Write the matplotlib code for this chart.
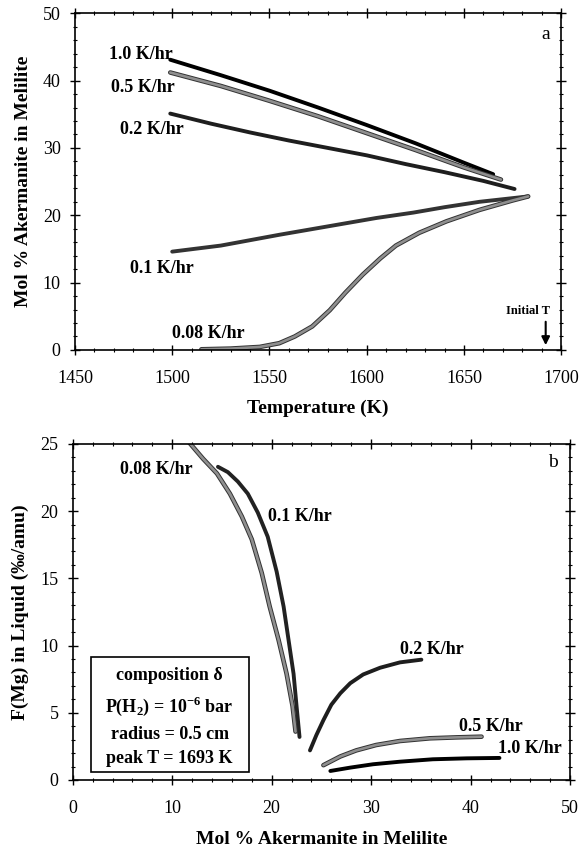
import matplotlib
matplotlib.use("Agg")
import matplotlib.pyplot as plt
import matplotlib.patheffects as pe
from matplotlib.patches import Rectangle
from matplotlib.ticker import MultipleLocator

plt.rcParams["font.family"] = ["Liberation Serif", "DejaVu Serif"]
plt.rcParams["mathtext.fontset"] = "custom"
plt.rcParams["mathtext.rm"] = "Liberation Serif:bold"
plt.rcParams["mathtext.bf"] = "Liberation Serif:bold"

# panel a: temperature (K) vs mol % akermanite in melilite
t_10 = [1499, 1525, 1550, 1575, 1600, 1625, 1650, 1665]
a_10 = [43.1, 40.8, 38.5, 36.0, 33.4, 30.7, 27.8, 26.1]
t_05 = [1499, 1525, 1550, 1575, 1600, 1625, 1650, 1669]
a_05 = [41.2, 39.2, 37.0, 34.7, 32.2, 29.7, 27.1, 25.3]
t_02 = [1499, 1520, 1540, 1560, 1580, 1600, 1620, 1640, 1660, 1676]
a_02 = [35.1, 33.6, 32.3, 31.1, 30.0, 28.9, 27.6, 26.4, 25.1, 23.9]
t_01 = [1500, 1525, 1555, 1575, 1589, 1605, 1624, 1640, 1658, 1683]
a_01 = [14.6, 15.5, 17.1, 18.1, 18.8, 19.6, 20.4, 21.2, 22.0, 22.8]
t_008 = [1515, 1530, 1545, 1555, 1563, 1572, 1581, 1589, 1598, 1607, 1615,
         1627, 1641, 1658, 1675, 1683]
a_008 = [0.1, 0.2, 0.45, 1.0, 2.0, 3.5, 5.9, 8.5, 11.2, 13.6, 15.5,
         17.4, 19.1, 20.8, 22.2, 22.8]

# panel b: mol % akermanite in melilite vs F(Mg) in liquid
x_b008 = [11.6, 13.1, 14.5, 15.8, 17.0, 18.0, 19.0, 19.8, 20.7, 21.5, 22.1, 22.4]
f_b008 = [25.2, 23.9, 22.8, 21.3, 19.6, 17.9, 15.4, 12.9, 10.4, 7.9, 5.5, 3.6]
x_b01 = [14.6, 15.6, 16.6, 17.6, 18.6, 19.6, 20.5, 21.2, 21.7, 22.2, 22.5, 22.8]
f_b01 = [23.3, 22.9, 22.2, 21.3, 19.9, 18.1, 15.5, 12.9, 10.4, 7.9, 5.5, 3.2]
x_b02 = [23.85, 24.5, 25.2, 26.0, 26.9, 27.9, 29.2, 30.9, 32.9, 35.05]
f_b02 = [2.2, 3.35, 4.45, 5.6, 6.45, 7.2, 7.85, 8.35, 8.75, 8.95]
x_b05 = [25.2, 26.9, 28.5, 30.5, 32.9, 35.9, 38.6, 41.1]
f_b05 = [1.1, 1.75, 2.2, 2.6, 2.9, 3.1, 3.17, 3.22]
x_b10 = [25.9, 27.9, 30.2, 32.9, 36.2, 39.6, 42.9]
f_b10 = [0.67, 0.92, 1.17, 1.36, 1.54, 1.61, 1.64]

box_lines = ["composition δ", r"P(H$_\mathbf{2}$) = 10$^\mathbf{-6}$ bar",
             "radius = 0.5 cm", "peak T = 1693 K"]

fig = plt.figure(figsize=(5.81, 8.49), dpi=100)
ax1 = fig.add_axes([0.129, 0.5878, 0.837, 0.3966])
ax2 = fig.add_axes([0.1252, 0.0813, 0.856, 0.3958])

lw = 2.8
grey_fx = [pe.Stroke(linewidth=lw + 0.5, foreground="#333333"), pe.Normal()]


def dark(ax, x, y, c="#111111"):
    ax.plot(x, y, color=c, lw=lw, solid_capstyle="round")


def grey(ax, x, y):
    ax.plot(x, y, color="#8f8f8f", lw=lw - 0.9, solid_capstyle="round",
            path_effects=grey_fx)


dark(ax1, t_10, a_10, "black")
grey(ax1, t_05, a_05)
dark(ax1, t_02, a_02, "#1e1e1e")
dark(ax1, t_01, a_01, "#333333")
grey(ax1, t_008, a_008)

lab = dict(fontsize=13, fontweight="bold", ha="center", va="center")
ax1.text(1483.7, 43.8, "1.0 K/hr", **lab)
ax1.text(1484.8, 38.9, "0.5 K/hr", **lab)
ax1.text(1489.8, 32.7, "0.2 K/hr", **lab)
ax1.text(1494.5, 12.1, "0.1 K/hr", **lab)
ax1.text(1518.5, 2.5, "0.08 K/hr", **lab)
ax1.text(1692, 46.8, "a", fontsize=14, ha="center", va="center")
ax1.text(1683, 5.8, "Initial T", fontsize=9, fontweight="bold", ha="center", va="center")
ax1.annotate("", xy=(1692, 0.3), xytext=(1692, 4.6),
             arrowprops=dict(arrowstyle="-|>", color="black", lw=1.5, mutation_scale=12))

ax1.set_xlim(1450, 1700)
ax1.set_ylim(0, 50)
ax1.xaxis.set_major_locator(MultipleLocator(50))
ax1.xaxis.set_minor_locator(MultipleLocator(10))
ax1.yaxis.set_major_locator(MultipleLocator(10))
ax1.yaxis.set_minor_locator(MultipleLocator(2))
ax1.set_xlabel("Temperature (K)", fontsize=14, fontweight="bold", labelpad=9)
ax1.set_ylabel("Mol % Akermanite in Melilite", fontsize=14, fontweight="bold", labelpad=8)

dark(ax2, x_b01, f_b01, "#222222")
grey(ax2, x_b008, f_b008)
dark(ax2, x_b02, f_b02, "#1e1e1e")
grey(ax2, x_b05, f_b05)
dark(ax2, x_b10, f_b10, "black")

ax2.text(8.4, 23.1, "0.08 K/hr", **lab)
ax2.text(22.8, 19.6, "0.1 K/hr", **lab)
ax2.text(36.1, 9.7, "0.2 K/hr", **lab)
ax2.text(42.0, 4.0, "0.5 K/hr", **lab)
ax2.text(46.0, 2.36, "1.0 K/hr", **lab)
ax2.text(48.3, 23.6, "b", fontsize=14, ha="center", va="center")

ax2.add_patch(Rectangle((1.8, 0.62), 15.9, 8.5, fill=False, lw=1.2, ec="black", zorder=3))
for yy, s in zip([7.8, 5.5, 3.35, 1.6], box_lines):
    ax2.text(9.75, yy, s, fontsize=13, fontweight="bold", ha="center", va="center")

ax2.set_xlim(0, 50)
ax2.set_ylim(0, 25)
ax2.xaxis.set_major_locator(MultipleLocator(10))
ax2.xaxis.set_minor_locator(MultipleLocator(2))
ax2.yaxis.set_major_locator(MultipleLocator(5))
ax2.yaxis.set_minor_locator(MultipleLocator(1))
ax2.set_xlabel("Mol % Akermanite in Melilite", fontsize=14, fontweight="bold", labelpad=10)
ax2.set_ylabel("F(Mg) in Liquid (‰/amu)", fontsize=14, fontweight="bold", labelpad=8)

for ax in (ax1, ax2):
    for sp in ax.spines.values():
        sp.set_linewidth(1.2)
    ax.tick_params(which="major", direction="inout", length=6.5, width=1.0,
                   top=True, right=True, labelsize=13)
    ax.tick_params(which="minor", direction="inout", length=3.5, width=0.8,
                   top=True, right=True)
    ax.tick_params(axis="x", which="major", pad=11)
    ax.tick_params(axis="y", which="major", pad=7)

fig.savefig("out.png", dpi=100)
